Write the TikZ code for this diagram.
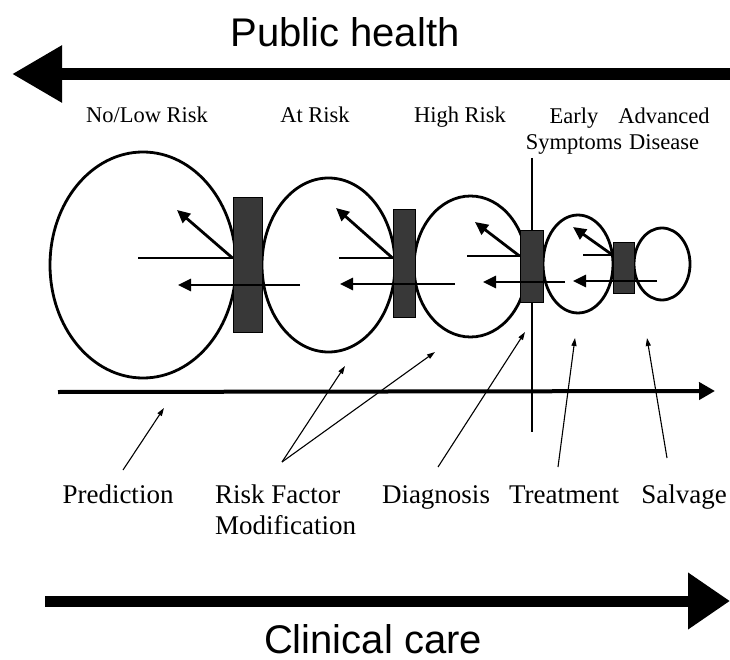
\documentclass[tikz,border=0pt]{standalone}
\usepackage{fontspec}
\setmainfont{Liberation Serif}
\newfontfamily\headfont{Liberation Sans}
\usetikzlibrary{arrows.meta,shapes.geometric}

\begin{document}
\begin{tikzpicture}
[
    x=1pt, y=-1pt,
    stage/.style={draw, ellipse, line width=2.8pt, inner sep=0pt},
    barrier/.style={draw, line width=1pt, fill=black!78, inner sep=0pt},
    flowline/.style={line width=2.8pt},
    flow/.style={line width=2.8pt, -{Triangle[length=13pt,width=12pt]}},
    pointer/.style={line width=1.1pt, -{Triangle[length=8pt,width=5pt]}},
    bigarrow/.style={line width=12pt, -{Triangle[length=50pt,width=54pt]}},
    heading/.style={font=\headfont\fontsize{40}{48}\selectfont, inner sep=0pt},
    toplabel/.style={font=\fontsize{22.5}{26}\selectfont, align=center, inner sep=0pt},
    botlabel/.style={font=\fontsize{27}{31}\selectfont, align=left, inner sep=0pt},
]
\useasboundingbox (0,0) rectangle (730,660);

\node [heading] (ph) at (345,32) {Public health};
\coordinate (phR) at (730,74);
\coordinate (phL) at (12,74);
\draw [bigarrow] (phR) -- (phL);

\node [toplabel, anchor=base] (nolow) at (147,123) {No/Low Risk};
\node [toplabel, anchor=base] (atrisk) at (315,123) {At Risk};
\node [toplabel, anchor=base] (highrisk) at (460,123) {High Risk};
\node [toplabel, anchor=north] (early) at (574,108) {Early\\Symptoms};
\node [toplabel, anchor=north] (advanced) at (664,108) {Advanced\\Disease};

\node [stage, minimum width=186, minimum height=226] (e1) at (143,265) {};
\node [stage, minimum width=133, minimum height=174] (e2) at (328.5,265) {};
\node [stage, minimum width=113, minimum height=141] (e3) at (470.5,266.5) {};
\node [stage, minimum width=70, minimum height=98] (e4) at (578,264) {};
\node [stage, minimum width=56, minimum height=72] (e5) at (662,264) {};

\coordinate (vtop) at (532,158);
\coordinate (vbot) at (532,432);
\draw [line width=1.2pt] (vtop) -- (vbot);

\node [barrier, minimum width=29, minimum height=134] (b1) at (247.5,265) {};
\node [barrier, minimum width=22, minimum height=107] (b2) at (404,263.5) {};
\node [barrier, minimum width=23, minimum height=71] (b3) at (531.5,266.5) {};
\node [barrier, minimum width=21, minimum height=51] (b4) at (623.5,267.5) {};

\coordinate (h1) at (138,258);
\coordinate (d1) at (177,210);
\coordinate (l1s) at (300,285);
\coordinate (l1e) at (178,285);
\draw [flowline] (h1) -- (b1.west |- h1);
\draw [flow] (b1.west |- h1) -- (d1);
\draw [flow] (l1s) -- (l1e);

\coordinate (h2) at (339,258);
\coordinate (d2) at (336,208);
\coordinate (l2s) at (455,284);
\coordinate (l2e) at (340,284);
\draw [flowline] (h2) -- (b2.west |- h2);
\draw [flow] (b2.west |- h2) -- (d2);
\draw [flow] (l2s) -- (l2e);

\coordinate (h3) at (467,256);
\coordinate (d3) at (475,222);
\coordinate (l3s) at (565,282);
\coordinate (l3e) at (483,282);
\draw [flowline] (h3) -- (b3.west |- h3);
\draw [flow] (b3.west |- h3) -- (d3);
\draw [flow] (l3s) -- (l3e);

\coordinate (h4) at (583,255);
\coordinate (d4) at (573,227);
\coordinate (l4s) at (657,281);
\coordinate (l4e) at (573,281);
\draw [flowline] (h4) -- (b4.west |- h4);
\draw [flow] (b4.west |- h4) -- (d4);
\draw [flow] (l4s) -- (l4e);

\coordinate (axL) at (58,392);
\coordinate (axR) at (715,391);
\draw [line width=4pt, -{Triangle[length=16pt,width=17pt]}] (axL) -- (axR);

\node [botlabel, anchor=base] (pred) at (118,503) {Prediction};
\node [botlabel, anchor=north west] (rfm) at (215,484.5) {Risk Factor\\Modification};
\node [botlabel, anchor=base] (diag) at (436,503) {Diagnosis};
\node [botlabel, anchor=base] (treat) at (564,503) {Treatment};
\node [botlabel, anchor=base] (salv) at (684,503) {Salvage};

\coordinate (predT) at (123,470);
\coordinate (predH) at (164,408);
\coordinate (rfmT) at (282,462);
\coordinate (rfmH1) at (345,366);
\coordinate (rfmH2) at (435,352);
\coordinate (diagT) at (438,467);
\coordinate (diagH) at (525,332);
\coordinate (treatT) at (558,467);
\coordinate (treatH) at (575,338);
\coordinate (salvT) at (667,458);
\coordinate (salvH) at (647,338);
\draw [pointer] (predT) -- (predH);
\draw [pointer] (rfmT) -- (rfmH1);
\draw [pointer] (rfmT) -- (rfmH2);
\draw [pointer] (diagT) -- (diagH);
\draw [pointer] (treatT) -- (treatH);
\draw [pointer] (salvT) -- (salvH);

\coordinate (ccL) at (45,601);
\coordinate (ccR) at (730,601);
\draw [line width=11pt, -{Triangle[length=42pt,width=54pt]}] (ccL) -- (ccR);
\node [heading, anchor=base] (cc) at (373,653) {Clinical care};
\end{tikzpicture}
\end{document}
